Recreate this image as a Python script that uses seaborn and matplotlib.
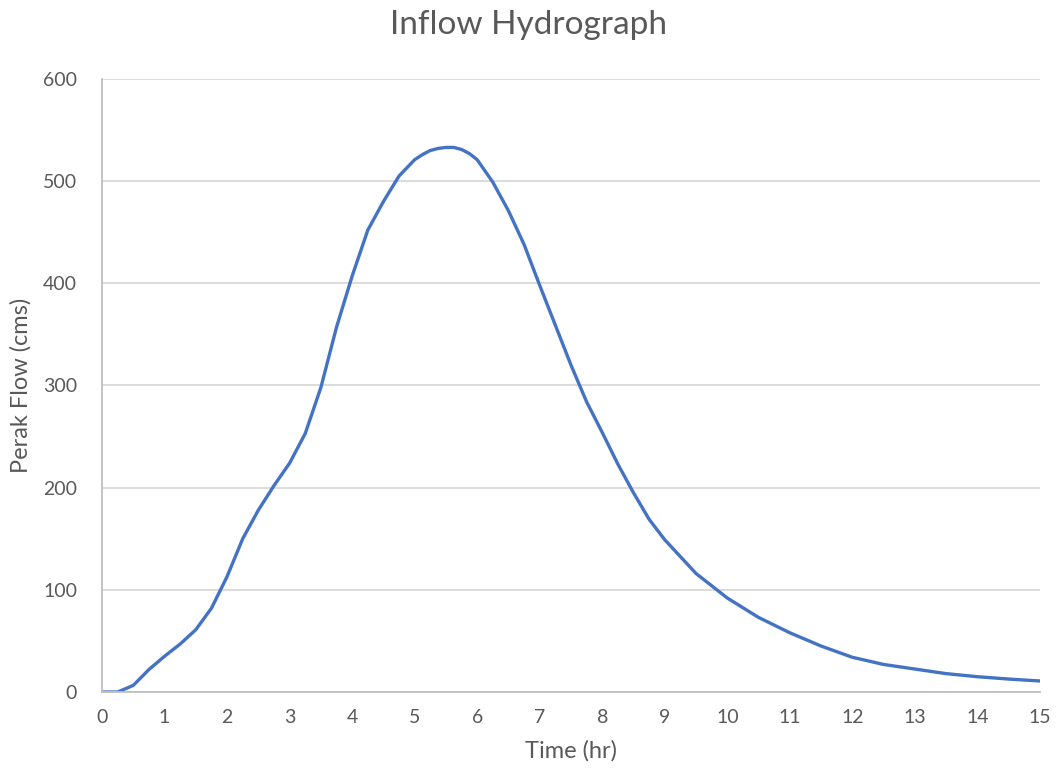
"""Inflow hydrograph chart
"""

import matplotlib
matplotlib.use("Agg")
import matplotlib.pyplot as plt
import seaborn as sns
import pandas as pd

sns.set_style("white")
plt.rcParams['font.family'] = ['Lato', 'DejaVu Sans']

time_hr = [0, 0.25, 0.5, 0.75, 1.0, 1.25, 1.5, 1.75, 2.0, 2.25, 2.5, 2.75,
           3.0, 3.25, 3.5, 3.75, 4.0, 4.25, 4.5, 4.75, 5.0, 5.125, 5.25,
           5.375, 5.5, 5.625, 5.75, 5.875, 6.0, 6.25, 6.5, 6.75, 7.0, 7.25,
           7.5, 7.75, 8.0, 8.25, 8.5, 8.75, 9.0, 9.5, 10, 10.5, 11, 11.5,
           12, 12.5, 13, 13.5, 14, 14.5, 15]
flow_cms = [0, 0, 6.5, 22, 35, 47, 61, 82, 113, 150, 178, 202,
            224, 253, 298, 357, 407, 452, 480, 505, 521, 526, 530,
            532, 533, 533, 531, 527, 521, 499, 471, 438, 398, 359,
            320, 284, 254, 223, 195, 169, 149, 116, 92, 73, 58, 45,
            34, 27, 22.5, 18, 15, 12.7, 10.8]

x_ticks = list(range(0, 16))
y_ticks = [0, 100, 200, 300, 400, 500, 600]

data = pd.DataFrame({"time": time_hr, "flow": flow_cms})

grey = "#595959"
fig = plt.figure(figsize=(10.56, 7.78), dpi=100)
ax = fig.add_axes([0.0966, 0.1105, 0.8882, 0.788])

sns.lineplot(data=data, x="time", y="flow", ax=ax, color="#4472C4",
             linewidth=2.4, solid_joinstyle="round", solid_capstyle="round")

ax.set_xlim(0, 15)
ax.set_ylim(0, 600)
ax.set_xticks(x_ticks)
ax.set_yticks(y_ticks)
ax.tick_params(axis="both", length=0, labelsize=14, labelcolor=grey)
ax.tick_params(axis="x", pad=12)
ax.tick_params(axis="y", pad=18)

# only horizontal gridlines, grey left and bottom axis lines
ax.yaxis.grid(True, color="#d9d9d9", linewidth=1.3)
ax.xaxis.grid(False)
for side in ["top", "right"]:
    ax.spines[side].set_visible(False)
for side in ["left", "bottom"]:
    ax.spines[side].set_color("#bfbfbf")
    ax.spines[side].set_linewidth(1.3)
ax.set_axisbelow(True)

ax.set_xlabel("Time (hr)", fontsize=17, color=grey, labelpad=10)
ax.set_ylabel("Perak Flow (cms)", fontsize=17, color=grey, labelpad=8)
fig.suptitle("Inflow Hydrograph", fontsize=24, color=grey, y=0.987)

fig.savefig("out.png", dpi=100)
